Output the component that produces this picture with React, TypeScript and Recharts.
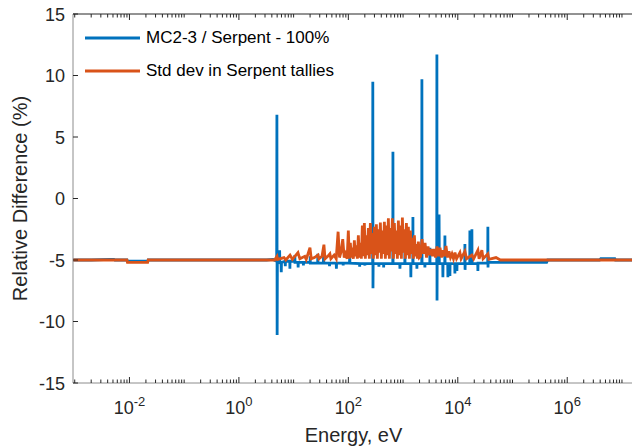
import { LineChart, Line, XAxis, YAxis, Legend, ReferenceLine } from 'recharts';

// MC2-3 vs Serpent relative difference (%), points as [energy eV, value]
const mc2VsSerpent: [number, number][] = [
  [9.3e-4, -5.0], [2.0e-3, -5.0], [4.4e-3, -4.95], [5.2e-3, -4.95], [5.4e-3, -5.0],
  [9.0e-3, -5.0], [9.2e-3, -5.1], [2.15e-2, -5.1], [2.2e-2, -5.0], [0.5, -5.0],
  [3.2, -5.0], [4.2, -4.95], [4.9, -5.1], [4.95, 6.8], [5.0, -11.1], [5.05, -5.1],
  [5.5, -5.2], [5.55, -4.2], [5.6, -5.2], [5.9, -5.3], [5.95, -6.0], [6.0, -5.2],
  [7.0, -5.1], [7.05, -5.5], [7.1, -5.1], [8.5, -5.1], [8.55, -5.7], [8.6, -5.1],
  [10.5, -5.1], [10.55, -4.6], [10.6, -5.2], [12, -5.2], [12.1, -5.6], [12.2, -5.2],
  [15, -5.2], [15.1, -5.45], [15.2, -5.2], [20, -5.2], [20.1, -4.7], [20.2, -5.25],
  [27.5, -5.25], [27.7, -4.5], [27.9, -5.25], [35, -5.25], [35.3, -4.4], [35.6, -5.25],
  [45, -5.25], [45.3, -5.5], [45.6, -5.25], [60, -5.25], [60.5, -5.7], [61, -5.25],
  [80, -5.25], [80.5, -5.45], [81, -5.25], [105, -5.25], [106, -4.5], [107, -5.25],
  [160, -5.3], [161, -5.55], [162, -5.3], [200, -5.3], [201, -5.45], [202, -5.3],
  [278, -5.3], [280, 9.5], [282, -7.3], [284, -5.3], [360, -5.3], [362, -5.55],
  [364, -5.3], [440, -5.3], [442, -5.6], [444, -5.3], [649, -5.3], [653, 3.8],
  [657, -5.3], [870, -5.3], [877, -5.7], [884, -5.3], [1075, -5.3], [1081, -4.3],
  [1087, -5.3], [1380, -5.3], [1388, -6.4], [1396, -5.3], [1505, -5.3], [1514, -1.5],
  [1523, -5.3], [1780, -5.3], [1790, -5.7], [1800, -5.3], [2195, -5.3], [2209, 9.7],
  [2222, -5.3], [2490, -5.3], [2506, -5.6], [2522, -5.3], [3080, -5.3], [3095, -4.0],
  [3110, -5.3], [4125, -5.3], [4152, 11.7], [4175, -8.3], [4200, -5.3], [4500, -5.3],
  [4550, -1.3], [4600, -5.3], [5310, -5.3], [5345, -6.4], [5380, -5.3], [5780, -5.3],
  [5818, -3.0], [5856, -5.3], [6550, -5.3], [6600, -6.4], [6650, -5.3], [7130, -5.3],
  [7180, -6.3], [7230, -5.3], [8800, -5.3], [8857, -6.1], [8914, -5.3], [9580, -5.3],
  [9637, -5.9], [9700, -5.3], [13400, -5.3], [13490, -3.7], [13580, -5.8], [13670, -5.3],
  [16540, -5.3], [16640, -2.6], [16740, -5.3], [18000, -5.3], [18110, -2.5],
  [18220, -5.3], [23150, -5.3], [23300, -5.9], [23450, -5.25], [35250, -5.25],
  [35460, -2.3], [35670, -5.6], [35880, -5.2], [4.2e5, -5.2], [4.4e5, -5.0],
  [3.9e6, -5.0], [4.1e6, -4.9], [7.4e6, -4.9], [7.6e6, -5.0], [1.66e7, -5.0],
];

// Std dev in Serpent tallies (%), points as [energy eV, value]
const serpentStdDev: [number, number][] = [
  [9.3e-4, -5.0], [9.0e-3, -5.0], [9.2e-3, -5.2], [2.15e-2, -5.2], [2.2e-2, -5.0],
  [4.5, -5.0], [4.97, -4.7], [5.1, -4.95], [6.67, -4.8], [7.2, -5.0], [8.6, -4.6],
  [9.5, -4.95], [12, -4.4], [13, -4.9], [16, -4.7], [17, -4.95], [19.9, -4.0],
  [21, -4.9], [24, -4.8], [27.9, -4.6], [29, -4.9], [33, -4.7], [35.8, -3.75],
  [37.5, -4.9], [42, -4.7], [46, -4.5], [48, -4.9], [55, -4.6], [60, -4.9],
  [65, -2.7], [69, -4.8], [74, -4.3], [79, -3.3], [84, -4.8], [89, -4.5], [95, -4.9],
  [100, -2.6], [104.3, -4.9], [108.8, -3.6], [113.5, -4.8], [118.4, -4.0],
  [123.5, -4.9], [128.8, -3.4], [134.3, -4.7], [140.1, -3.8], [146.1, -4.9],
  [152.4, -3.0], [158.9, -4.8], [165.8, -3.6], [172.9, -4.9], [180.3, -2.2],
  [188.1, -4.7], [196.2, -2.0], [204.6, -4.9], [213.4, -3.0], [222.6, -4.6],
  [232.2, -2.4], [242.1, -4.9], [252.6, -2.0], [263.4, -4.5], [274.8, -2.8],
  [286.6, -4.9], [298.9, -2.3], [311.8, -4.6], [325.2, -2.1], [339.2, -4.9],
  [353.8, -2.5], [369, -4.4], [384.9, -1.95], [401.4, -4.9], [418.7, -2.6],
  [436.7, -4.5], [455.5, -1.9], [475.1, -4.9], [495.5, -2.2], [516.8, -4.6],
  [539, -1.6], [562.2, -4.9], [586.4, -2.4], [611.6, -4.3], [637.9, -1.6],
  [665.3, -4.9], [693.9, -2.0], [723.8, -4.5], [754.9, -2.6], [787.4, -4.9],
  [821.2, -1.8], [856.5, -4.6], [893.4, -2.2], [931.8, -4.9], [971.9, -1.55],
  [1013.7, -4.4], [1057.3, -2.5], [1102.7, -4.9], [1150.1, -2.0], [1199.6, -4.6],
  [1251.2, -2.3], [1305, -4.9], [1361.1, -2.6], [1419.6, -4.5], [1480.7, -3.2],
  [1544.4, -4.9], [1610.8, -3.0], [1680, -4.7], [1752.2, -3.7], [1827.6, -4.9],
  [1906.2, -3.5], [1988.2, -4.8], [2087, -4.7], [2222, -3.3], [2367, -4.5],
  [2521, -3.6], [2685, -4.8], [2859, -3.9], [3045, -4.6], [3243, -4.1], [3454, -4.7],
  [3678, -4.1], [3917, -4.8], [4172, -3.9], [4443, -4.7], [4732, -4.0], [5040, -4.8],
  [5367, -4.2], [5716, -4.7], [6088, -3.85], [6483, -4.8], [6905, -4.3], [7354, -4.8],
  [7832, -4.5], [8341, -4.9], [8883, -4.4], [9500, -4.9], [10930, -4.4], [11500, -4.9],
  [13490, -4.3], [14500, -4.9], [18110, -4.6], [19500, -4.9], [23300, -4.2],
  [24500, -4.9], [27560, -4.2], [29000, -4.9], [35460, -4.5], [37000, -4.95],
  [50000, -4.8], [60000, -5.0], [1.66e7, -5.0],
];

const xMajorTicks = [1e-2, 1, 1e2, 1e4, 1e6];
const xMajorExponents = ['-2', '0', '2', '4', '6'];
const yTicks = [-15, -10, -5, 0, 5, 10, 15];

const X_DOMAIN: [number, number] = [9.3e-4, 1.66e7];

const xMinorTicks: number[] = [];
for (let k = -3; k <= 7; k++) {
  for (let m = 1; m <= 9; m++) {
    const v = m * Math.pow(10, k);
    if (v < X_DOMAIN[0] || v > X_DOMAIN[1]) continue;
    if (m === 1 && k % 2 === 0) continue;
    xMinorTicks.push(v);
  }
}

const BLUE = '#0072BD';
const ORANGE = '#D95319';
const INK = '#262626';
const FONT = '"Liberation Sans", Arial, sans-serif';

const PLOT_LEFT = 73;
const PLOT_TOP = 14;
const PLOT_BOTTOM = 383;

function majorIndex(v: number) {
  return xMajorTicks.findIndex((t) => Math.abs(Math.log10(t) - Math.log10(v)) < 1e-6);
}

function BottomTick({ x, payload }: any) {
  const idx = majorIndex(payload.value);
  const len = idx >= 0 ? 6 : 3.5;
  return (
    <g>
      <line x1={x} x2={x} y1={PLOT_BOTTOM} y2={PLOT_BOTTOM - len} stroke={INK} />
      <line x1={x} x2={x} y1={PLOT_TOP} y2={PLOT_TOP + len} stroke={INK} />
      {idx >= 0 && (
        <text x={x} y={PLOT_BOTTOM + 31} textAnchor="middle" fontSize={18} fill={INK} fontFamily={FONT}>
          10
          <tspan dy={-8} fontSize={13}>{xMajorExponents[idx]}</tspan>
        </text>
      )}
    </g>
  );
}

function LeftTick({ y, payload }: any) {
  return (
    <g>
      <line x1={PLOT_LEFT} x2={PLOT_LEFT + 5} y1={y} y2={y} stroke={INK} />
      <text x={PLOT_LEFT - 8} y={y + 6.5} textAnchor="end" fontSize={18} fill={INK} fontFamily={FONT}>
        {payload.value}
      </text>
    </g>
  );
}

function LegendBox({ payload }: any) {
  return (
    <div style={{ fontFamily: FONT, fontSize: 17, color: '#000' }}>
      {(payload || []).map((entry: any) => (
        <div key={entry.value} style={{ display: 'flex', alignItems: 'center', height: 33 }}>
          <svg width={55} height={4} style={{ display: 'block' }}>
            <line x1={0} x2={55} y1={2} y2={2} stroke={entry.color} strokeWidth={3} />
          </svg>
          <span style={{ marginLeft: 6, whiteSpace: 'nowrap' }}>{entry.value}</span>
        </div>
      ))}
    </div>
  );
}

export default function App() {
  return (
    <div style={{ position: 'absolute', left: 0, top: 0, width: 632, height: 448, overflow: 'hidden', background: '#fff' }}>
      <LineChart width={640} height={448} margin={{ top: PLOT_TOP, right: 6, left: 0, bottom: 0 }}>
        <XAxis
          dataKey="energy"
          type="number"
          scale="log"
          domain={X_DOMAIN}
          allowDataOverflow
          ticks={[...xMajorTicks, ...xMinorTicks]}
          interval={0}
          tick={<BottomTick />}
          tickLine={false}
          tickSize={0}
          tickMargin={0}
          height={448 - PLOT_BOTTOM}
          axisLine={{ stroke: '#8c8c8c' }}
          label={{
            content: () => (
              <text x={353.5} y={442} textAnchor="middle" fontSize={20} fill={INK} fontFamily={FONT}>
                Energy, eV
              </text>
            ),
          }}
        />
        <YAxis
          type="number"
          domain={[-15, 15]}
          ticks={yTicks}
          interval={0}
          tick={<LeftTick />}
          tickLine={false}
          tickSize={0}
          tickMargin={0}
          width={PLOT_LEFT}
          axisLine={{ stroke: '#8c8c8c' }}
          label={{
            content: () => (
              <text transform="translate(27,198.5) rotate(-90)" textAnchor="middle" fontSize={20} fill={INK} fontFamily={FONT}>
                Relative Difference (%)
              </text>
            ),
          }}
        />
        <ReferenceLine y={15} stroke={INK} strokeWidth={1} />
        <Legend
          layout="vertical"
          align="center"
          verticalAlign="middle"
          content={<LegendBox />}
          wrapperStyle={{ top: 21.5, left: 85, width: 320 }}
        />
        <Line
          data={mc2VsSerpent.map(([energy, value]) => ({ energy, value }))}
          dataKey="value"
          name="MC2-3 / Serpent - 100%"
          type="linear"
          stroke={BLUE}
          strokeWidth={2.8}
          dot={false}
          isAnimationActive={false}
        />
        <Line
          data={serpentStdDev.map(([energy, value]) => ({ energy, value }))}
          dataKey="value"
          name="Std dev in Serpent tallies"
          type="linear"
          stroke={ORANGE}
          strokeWidth={2.8}
          dot={false}
          isAnimationActive={false}
        />
      </LineChart>
    </div>
  );
}
